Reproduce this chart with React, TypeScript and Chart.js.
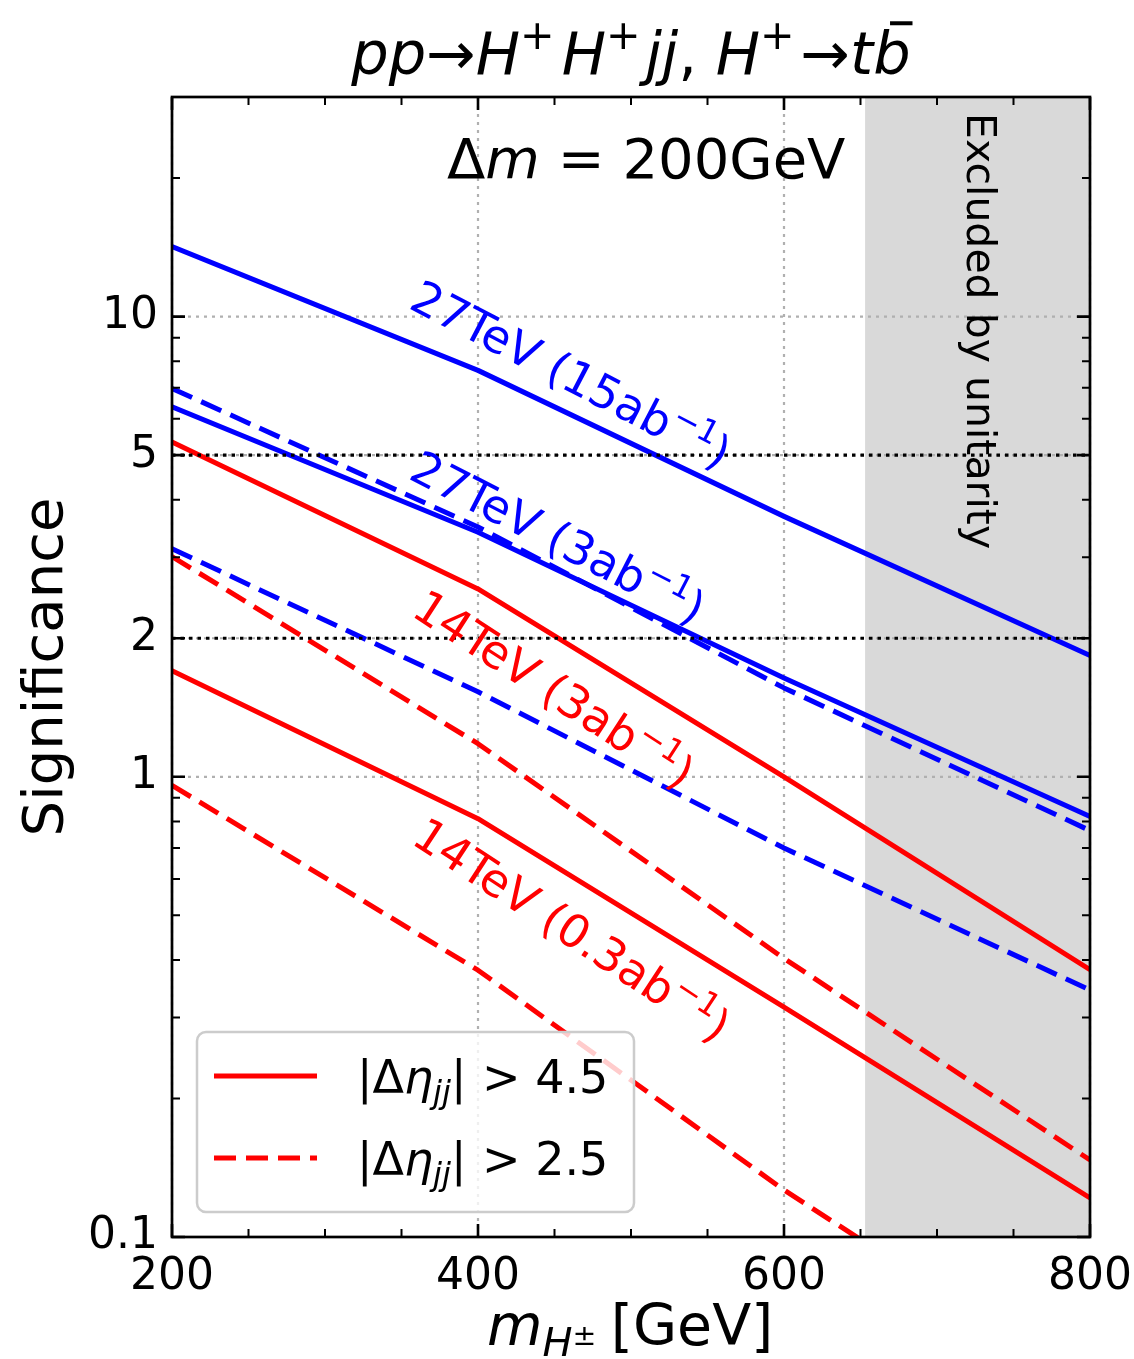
import React, { useEffect, useRef } from 'react';
import { Chart, registerables } from 'chart.js';

Chart.register(...registerables);

// ---------------- data ----------------
const massPoints = [200, 400, 600, 800];
const sig27TeV15abEta45 = [14.2, 7.64, 3.68, 1.835];
const sig27TeV15abEta25 = [6.98, 3.49, 1.56, 0.764];
const sig27TeV3abEta45 = [6.37, 3.4, 1.64, 0.82];
const sig27TeV3abEta25 = [3.13, 1.53, 0.7, 0.344];
const sig14TeV3abEta45 = [5.34, 2.56, 1.0, 0.381];
const sig14TeV3abEta25 = [3.01, 1.18, 0.403, 0.147];
const sig14TeV03abEta45 = [1.7, 0.811, 0.316, 0.1216];
const sig14TeV03abEta25 = [0.958, 0.38, 0.1265, 0.047];

const referenceLevels = [5, 2];
const excludedFrom = 653;

const xMajorTicks = [200, 400, 600, 800];
const xMinorTicks = [250, 300, 350, 450, 500, 550, 650, 700, 750];
const yMajorTicks = [0.1, 1, 2, 5, 10];
const yTickLabels = ['0.1', '1', '2', '5', '10'];
const yMinorTicks = [0.2, 0.3, 0.4, 0.5, 0.6, 0.7, 0.8, 0.9, 3, 4, 6, 7, 8, 9, 20];

const curveLabelTexts = ['27TeV (15ab', '27TeV (3ab', '14TeV (3ab', '14TeV (0.3ab'];
const legendLabels = ['4.5', '2.5'];

// ---------------- styling / layout ----------------
const FONT = '"DejaVu Sans"';
const BLUE = '#0000ff';
const RED = '#ff0000';
const DASH = [22, 10];

const curveLabelLayout = [
  { x: 460.8, y: 7.48, angle: 27.5, color: BLUE },
  { x: 452.3, y: 3.31, angle: 27.2, color: BLUE },
  { x: 449.7, y: 1.55, angle: 33.0, color: RED },
  { x: 461.4, y: 0.465, angle: 33.3, color: RED },
];

type Seg = { t: string; it?: boolean; s?: number; dy?: number; dx?: number; bar?: boolean };

function fontOf(size: number, it?: boolean) {
  return `${it ? 'italic ' : ''}${size}px ${FONT}`;
}

function richWidth(ctx: CanvasRenderingContext2D, segs: Seg[], size: number) {
  let w = 0;
  for (const g of segs) {
    ctx.font = fontOf(size * (g.s ?? 1), g.it);
    w += (g.dx ?? 0) * size + ctx.measureText(g.t).width;
  }
  return w;
}

function drawRich(
  ctx: CanvasRenderingContext2D,
  segs: Seg[],
  size: number,
  x: number,
  y: number,
  align: 'left' | 'center' | 'right'
) {
  const w = richWidth(ctx, segs, size);
  let cx = align === 'center' ? x - w / 2 : align === 'right' ? x - w : x;
  ctx.textAlign = 'left';
  ctx.textBaseline = 'alphabetic';
  for (const g of segs) {
    const fs = size * (g.s ?? 1);
    ctx.font = fontOf(fs, g.it);
    cx += (g.dx ?? 0) * size;
    const gy = y + (g.dy ?? 0) * size;
    ctx.fillText(g.t, cx, gy);
    const gw = ctx.measureText(g.t).width;
    if (g.bar) {
      ctx.save();
      ctx.strokeStyle = ctx.fillStyle as string;
      ctx.lineWidth = 4;
      ctx.beginPath();
      ctx.moveTo(cx + gw * 0.45, gy - size * 0.86);
      ctx.lineTo(cx + gw * 1.05, gy - size * 0.86);
      ctx.stroke();
      ctx.restore();
    }
    cx += gw;
  }
}

function seg(line: number[]) {
  return massPoints.map((m, i) => ({ x: m, y: line[i] }));
}

const decorPlugin = {
  id: 'decor',
  beforeDatasetsDraw(chart: any) {
    const { ctx, chartArea: a, scales } = chart;
    const x = scales.x;
    const y = scales.y;
    ctx.save();
    const xe = x.getPixelForValue(excludedFrom);
    ctx.fillStyle = '#d9d9d9';
    ctx.fillRect(xe, a.top, a.right - xe, a.bottom - a.top);

    ctx.strokeStyle = '#b0b0b0';
    ctx.lineWidth = 2.2;
    ctx.setLineDash([3, 5]);
    for (const v of xMajorTicks) {
      const px = x.getPixelForValue(v);
      ctx.beginPath();
      ctx.moveTo(px, a.bottom);
      ctx.lineTo(px, a.top);
      ctx.stroke();
    }
    for (const v of yMajorTicks) {
      const py = y.getPixelForValue(v);
      ctx.beginPath();
      ctx.moveTo(a.left, py);
      ctx.lineTo(a.right, py);
      ctx.stroke();
    }
    ctx.restore();
  },
  afterDatasetsDraw(chart: any) {
    const { ctx, chartArea: a, scales } = chart;
    const x = scales.x;
    const y = scales.y;
    ctx.save();

    // curve labels
    curveLabelTexts.forEach((txt, i) => {
      const L = curveLabelLayout[i];
      const px = x.getPixelForValue(L.x);
      const py = y.getPixelForValue(L.y);
      const size = 46;
      ctx.save();
      ctx.translate(px, py);
      ctx.rotate((L.angle * Math.PI) / 180);
      ctx.fillStyle = L.color;
      drawRich(
        ctx,
        [{ t: txt }, { t: '\u22121', s: 0.7, dy: -0.4 }, { t: ')' }],
        size,
        0,
        size * 0.35,
        'center'
      );
      ctx.restore();
    });

    // excluded text
    ctx.save();
    ctx.translate(a.right - 123, a.top + 16);
    ctx.rotate(Math.PI / 2);
    ctx.fillStyle = '#000';
    ctx.font = fontOf(41);
    ctx.textAlign = 'left';
    ctx.textBaseline = 'alphabetic';
    ctx.fillText('Excluded by unitarity', 0, 0);
    ctx.restore();

    // frame and ticks
    ctx.strokeStyle = '#000';
    const tick = (vals: number[], len: number, w: number) => {
      ctx.lineWidth = w;
      for (const v of vals) {
        const px = x.getPixelForValue(v);
        ctx.beginPath();
        ctx.moveTo(px, a.bottom);
        ctx.lineTo(px, a.bottom - len);
        ctx.moveTo(px, a.top);
        ctx.lineTo(px, a.top + len);
        ctx.stroke();
      }
    };
    const ytick = (vals: number[], len: number, w: number) => {
      ctx.lineWidth = w;
      for (const v of vals) {
        const py = y.getPixelForValue(v);
        ctx.beginPath();
        ctx.moveTo(a.left, py);
        ctx.lineTo(a.left + len, py);
        ctx.moveTo(a.right, py);
        ctx.lineTo(a.right - len, py);
        ctx.stroke();
      }
    };
    tick(xMajorTicks, 13, 2.6);
    tick(xMinorTicks, 8, 2);
    ytick(yMajorTicks, 13, 2.6);
    ytick(yMinorTicks, 8, 2);
    ctx.lineWidth = 2.7;
    ctx.strokeRect(a.left, a.top, a.right - a.left, a.bottom - a.top);

    // Δm text
    ctx.fillStyle = '#000';
    drawRich(
      ctx,
      [{ t: '\u0394' }, { t: 'm', it: true }, { t: ' = 200GeV' }],
      56,
      a.left + 275,
      a.top + 81,
      'left'
    );

    // legend
    const lx = a.left + 25;
    const lyb = a.bottom - 25;
    const lw = 437;
    const lh = 180;
    const ly = lyb - lh;
    ctx.save();
    ctx.beginPath();
    (ctx as any).roundRect(lx, ly, lw, lh, 9);
    ctx.fillStyle = 'rgba(255,255,255,0.8)';
    ctx.fill();
    ctx.strokeStyle = '#cccccc';
    ctx.lineWidth = 2.5;
    ctx.stroke();
    ctx.restore();
    legendLabels.forEach((lab, i) => {
      const yy = ly + 44 + i * 82;
      ctx.save();
      ctx.strokeStyle = RED;
      ctx.lineWidth = 5;
      ctx.setLineDash(i === 0 ? [] : DASH);
      ctx.beginPath();
      ctx.moveTo(lx + 17, yy);
      ctx.lineTo(lx + 120, yy);
      ctx.stroke();
      ctx.restore();
      ctx.fillStyle = '#000';
      drawRich(
        ctx,
        [
          { t: '|\u0394' },
          { t: '\u03b7', it: true },
          { t: 'jj', it: true, s: 0.7, dy: 0.22 },
          { t: '|' },
          { t: ' > ' + lab, dx: 0.02 },
        ],
        46,
        lx + 160,
        yy + 17,
        'left'
      );
    });
    ctx.restore();
  },
  afterDraw(chart: any) {
    const { ctx, chartArea: a } = chart;
    ctx.save();
    ctx.fillStyle = '#000';
    // title
    drawRich(
      ctx,
      [
        { t: 'pp', it: true },
        { t: '\u2192' },
        { t: 'H', it: true },
        { t: '+', s: 0.7, dy: -0.42 },
        { t: 'H', it: true, dx: 0.12 },
        { t: '+', s: 0.7, dy: -0.42 },
        { t: 'jj', it: true, dx: 0.08 },
        { t: ',' },
        { t: ' ' },
        { t: 'H', it: true },
        { t: '+', s: 0.7, dy: -0.42 },
        { t: '\u2192', dx: 0.1 },
        { t: 't', it: true },
        { t: 'b', it: true, bar: true },
      ],
      59,
      (a.left + a.right) / 2,
      74,
      'center'
    );
    // x label
    drawRich(
      ctx,
      [
        { t: 'm', it: true },
        { t: 'H', it: true, s: 0.7, dy: 0.2 },
        { t: '\u00b1', s: 0.5, dy: 0.0 },
        { t: '[GeV]', dx: 0.25 },
      ],
      57,
      487,
      1345,
      'left'
    );
    // y label
    ctx.save();
    ctx.translate(62, (a.top + a.bottom) / 2);
    ctx.rotate(-Math.PI / 2);
    ctx.font = fontOf(56);
    ctx.textAlign = 'center';
    ctx.textBaseline = 'alphabetic';
    ctx.fillText('Significance', 0, 0);
    ctx.restore();
    ctx.restore();
  },
};

function lineDs(data: number[], color: string, dashed: boolean) {
  return {
    data: seg(data),
    borderColor: color,
    borderWidth: 5,
    borderDash: dashed ? DASH : [],
    borderCapStyle: 'butt',
    borderJoinStyle: 'round',
    pointRadius: 0,
    tension: 0,
    fill: false,
    clip: 0,
  };
}

export default function App() {
  const ref = useRef<HTMLCanvasElement>(null);
  useEffect(() => {
    const tickFont = { family: 'DejaVu Sans', size: 44 };
    const refDs = referenceLevels.map((lvl) => ({
      data: [
        { x: 200, y: lvl },
        { x: 800, y: lvl },
      ],
      borderColor: '#000',
      borderWidth: 3.2,
      borderDash: [3.5, 5],
      pointRadius: 0,
      fill: false,
      clip: 0,
    }));
    const chart = new Chart(ref.current as HTMLCanvasElement, {
      type: 'line',
      data: {
        datasets: [
          ...refDs,
          lineDs(sig27TeV15abEta45, BLUE, false),
          lineDs(sig27TeV3abEta45, BLUE, false),
          lineDs(sig27TeV15abEta25, BLUE, true),
          lineDs(sig27TeV3abEta25, BLUE, true),
          lineDs(sig14TeV3abEta45, RED, false),
          lineDs(sig14TeV03abEta45, RED, false),
          lineDs(sig14TeV3abEta25, RED, true),
          lineDs(sig14TeV03abEta25, RED, true),
        ] as any,
      },
      options: {
        responsive: false,
        animation: false,
        devicePixelRatio: 1,
        layout: { padding: { left: 0, right: 44, top: 97, bottom: 0 } },
        plugins: {
          legend: { display: false },
          tooltip: { enabled: false },
        },
        scales: {
          x: {
            type: 'linear',
            min: 200,
            max: 800,
            afterBuildTicks: (s: any) => {
              s.ticks = xMajorTicks.map((v) => ({ value: v }));
            },
            ticks: {
              font: tickFont,
              color: '#000',
              padding: 14,
              maxRotation: 0,
              autoSkip: false,
              callback: (v: any) => String(v),
            },
            grid: { display: false, drawTicks: false },
            border: { display: false },
            afterFit: (s: any) => {
              s.height = 122;
              s.paddingLeft = 0;
              s.paddingRight = 0;
            },
          },
          y: {
            type: 'logarithmic',
            min: 0.1,
            max: 30,
            afterBuildTicks: (s: any) => {
              s.ticks = yMajorTicks.map((v) => ({ value: v }));
            },
            ticks: {
              font: tickFont,
              color: '#000',
              padding: 14,
              autoSkip: false,
              callback: (v: any) => {
                const i = yMajorTicks.indexOf(Number(v));
                return i >= 0 ? yTickLabels[i] : '';
              },
            },
            grid: { display: false, drawTicks: false },
            border: { display: false },
            afterFit: (s: any) => {
              s.width = 172;
              s.paddingTop = 0;
              s.paddingBottom = 0;
            },
          },
        },
      } as any,
      plugins: [decorPlugin as any],
    });
    return () => chart.destroy();
  }, []);
  return (
    <div
      style={{
        position: 'absolute',
        left: 0,
        top: 0,
        width: 1134,
        height: 1359,
        background: '#fff',
      }}
    >
      <canvas ref={ref} width={1134} height={1359} style={{ display: 'block' }} />
    </div>
  );
}
